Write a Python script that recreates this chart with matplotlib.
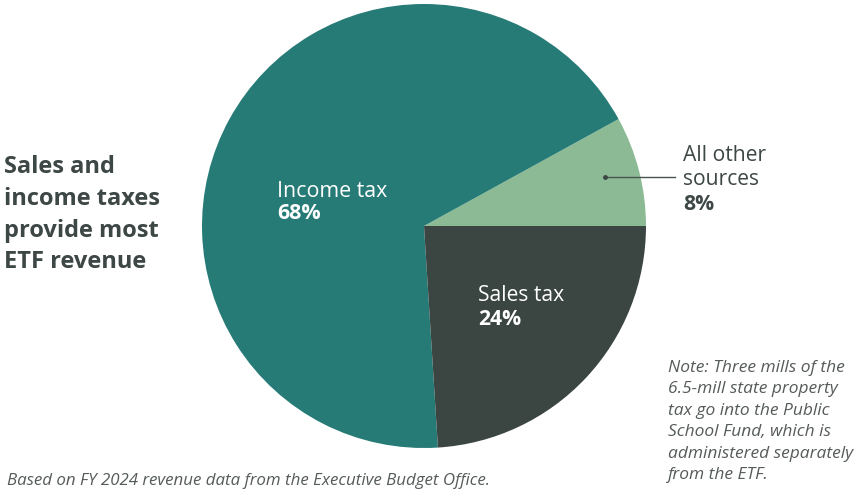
import matplotlib.pyplot as plt

# revenue shares, counter-clockwise from 3 o'clock
labels = ['All other\nsources', 'Income tax', 'Sales tax']
shares = [8, 68, 24]
colors = ['#8bba94', '#267b77', '#3b4643']

title_lines = ['Sales and', 'income taxes', 'provide most', 'ETF revenue']
note = ('Note: Three mills of the\n6.5-mill state property\ntax go into the Public\n'
        'School Fund, which is\nadministered separately\nfrom the ETF.')
source = 'Based on FY 2024 revenue data from the Executive Budget Office.'

W, H = 856, 491
plt.rcParams['font.family'] = ['Open Sans', 'DejaVu Sans']


def px(x, y):
    return x / W, 1 - y / H


def main():
    fig = plt.figure(figsize=(W / 100, H / 100), dpi=100)
    ax = fig.add_axes([202 / W, 43 / H, 444 / W, 444 / H])
    ax.pie(shares, colors=colors, startangle=0, counterclock=True, radius=1,
           wedgeprops=dict(linewidth=0))
    ax.set_xlim(-1, 1)
    ax.set_ylim(-1, 1)
    ax.set_aspect('equal')
    ax.axis('off')

    dark = '#3d4745'
    for i, line in enumerate(title_lines):
        fig.text(*px(4, 173 + 31.8 * i), line, fontsize=17, fontweight='bold',
                 color=dark, va='baseline', ha='left')

    # slice labels: name then bold percentage
    fig.text(*px(277, 197), 'Income tax', fontsize=15.4, color='white', va='baseline')
    fig.text(*px(277, 219), f'{shares[1]}%', fontsize=15.4, fontweight='bold',
             color='white', va='baseline')
    fig.text(*px(478, 301), 'Sales tax', fontsize=15.2, color='white', va='baseline')
    fig.text(*px(478, 325), f'{shares[2]}%', fontsize=15.2, fontweight='bold',
             color='white', va='baseline')

    name_lines = labels[0].split('\n')
    fig.text(*px(683, 161), name_lines[0], fontsize=15.2, color=dark, va='baseline')
    fig.text(*px(683, 185), name_lines[1], fontsize=15.2, color=dark, va='baseline')
    fig.text(*px(683, 210), f'{shares[0]}%', fontsize=15.2, fontweight='bold',
             color=dark, va='baseline')
    x0, y0 = px(605, 177)
    x1, y1 = px(675, 177)
    fig.add_artist(plt.Line2D([x0, x1], [y0, y1], color='#4a5552', linewidth=1,
                              transform=fig.transFigure))
    fig.add_artist(plt.Line2D([x0], [y0], marker='o', markersize=2.5,
                              color='#3d4745', transform=fig.transFigure))

    fig.text(*px(668, 360), note, fontsize=12.5, style='italic', color='#555b59',
             va='top', ha='left', linespacing=1.45)
    fig.text(*px(7, 485), source, fontsize=12.2, style='italic', color='#555b59',
             va='baseline', ha='left')

    fig.savefig('out.png', dpi=100)


if __name__ == '__main__':
    main()
